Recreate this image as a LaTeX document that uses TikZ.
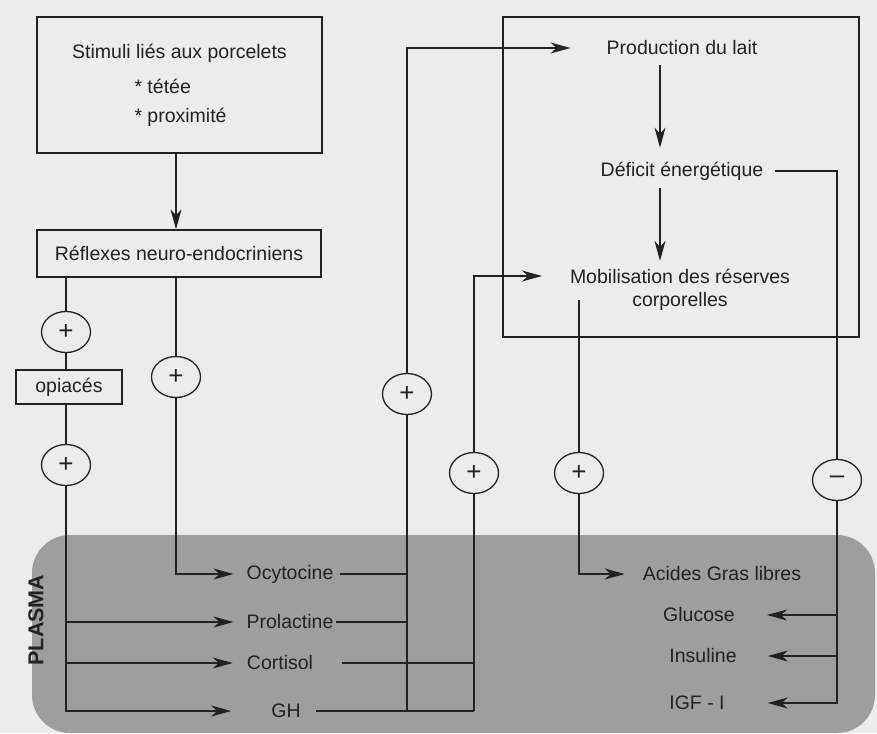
\documentclass[tikz,border=0pt]{standalone}
\usepackage{fontspec}
\setmainfont{Liberation Sans}
\usetikzlibrary{arrows.meta,shapes.geometric,calc}
\definecolor{paper}{HTML}{ECECEC}
\definecolor{plasmagray}{HTML}{9E9E9E}
\definecolor{ink}{HTML}{222222}
\begin{document}
\begin{tikzpicture}[x=1pt,y=-1pt,
  every node/.style={font=\fontsize{19.5}{23.4}\selectfont, text=ink},
  line/.style={draw=ink, line width=1.3pt},
  arr/.style={line, -{Stealth[length=20pt,width=11pt,inset=6pt]}},
  box/.style={draw=ink, line width=1.3pt, rectangle, inner sep=0pt},
  sign/.style={ellipse, draw=ink, line width=1.3pt, fill=paper, minimum width=49pt, minimum height=41pt, inner sep=0pt, font=\fontsize{26}{26}\selectfont},
  lbl/.style={inner sep=0pt},
]
\useasboundingbox (0,0) rectangle (877,733);
\fill[paper] (0,0) rectangle (877,733);
\fill[plasmagray, rounded corners=38pt] (32,535) rectangle (875,733);
\node[font=\bfseries\fontsize{21.5}{21.5}\selectfont, rotate=90, inner sep=0pt] (plasma) at (36,620) {PLASMA};

% boxes
\node[box, minimum width=285pt, minimum height=136pt, align=center] (stim) at (179.5,85)
  {Stimuli liés aux porcelets\\[11.6pt]\makebox[90pt][l]{* tétée}\\[5.6pt]\makebox[90pt][l]{* proximité}};
\node[box, minimum width=284pt, minimum height=47pt] (refl) at (179,253.5) {Réflexes neuro-endocriniens};
\node[box, minimum width=106pt, minimum height=34pt] (opi) at (69,387) {opiacés};
\node[box, minimum width=356pt, minimum height=320pt] (milk) at (681,177) {};

% texts in the right box
\node[lbl] (prod) at (682,48) {Production du lait};
\node[lbl] (def) at (682,171) {Déficit énergétique};
\node[lbl, align=center] (mob) at (680,290) {Mobilisation des réserves\\corporelles};

% plasma texts
\node[lbl] (ocy) at (290,574) {Ocytocine};
\node[lbl] (prl) at (290,622) {Prolactine};
\node[lbl] (cor) at (280,663) {Cortisol};
\node[lbl] (gh) at (286,711) {GH};
\node[lbl] (agl) at (722,574) {Acides Gras libres};
\node[lbl] (glu) at (699,615) {Glucose};
\node[lbl] (ins) at (703,656) {Insuline};
\node[lbl] (igf) at (697,703) {IGF - I};

% signs
\node[sign] (s1) at (66,332) {+};
\node[sign] (s2) at (66,465) {+};
\node[sign] (s3) at (176,377) {+};
\node[sign] (s4) at (407,394) {+};
\node[sign] (s5) at (474,473) {+};
\node[sign] (s6) at (579,473) {+};
\node[sign] (s7) at (837,480) {–};

\coordinate (mobin) at (542,276);
\coordinate (mobout) at (579,300);
\coordinate (ax) at (660,0);

% connectors
\draw[arr] (stim.south -| s3) -- (refl.north -| s3);
\draw[line] (refl.south -| s1) -- (s1);
\draw[line] (s1) -- (opi.north -| s1);
\draw[line] (opi.south -| s1) -- (s2);
\draw[arr, shorten >=40pt] (s2) -- (s2 |- gh) -- (gh.west);
\draw[arr, shorten >=13pt] (s2 |- prl) -- (prl.west);
\draw[arr, shorten >=14pt] (s2 |- cor) -- (cor.west);
\draw[line] (refl.south -| s3) -- (s3);
\draw[arr, shorten >=13pt] (s3) -- (s3 |- ocy) -- (ocy.west);

\draw[line, shorten <=6pt] (ocy.east) -- (s4 |- ocy);
\draw[line, shorten <=2pt] (prl.east) -- (s4 |- prl);
\draw[line, shorten <=29pt] (cor.east) -- (s5 |- cor);
\draw[line, shorten <=15pt] (gh.east) -- (s5 |- gh);
\draw[line] (s4 |- gh) -- (s4);
\draw[arr, shorten >=36pt] (s4) -- (s4 |- prod) -- (prod.west);
\draw[line] (s5 |- gh) -- (s5);
\draw[arr] (s5) -- (s5 |- mobin) -- (mobin);

\draw[arr, shorten <=10pt, shorten >=14pt] (prod.south -| ax) -- (def.north -| ax);
\draw[arr, shorten <=8pt, shorten >=8pt] (def.south -| ax) -- (mob.north -| ax);

\draw[line] (mobout) -- (s6);
\draw[arr, shorten >=18pt] (s6) -- (s6 |- agl) -- (agl.west);

\draw[line, shorten <=11pt] (def.east) -- (s7 |- def) -- (s7);
\draw[arr, shorten >=43pt] (s7) -- (s7 |- igf) -- (igf.east);
\draw[arr, shorten >=32pt] (s7 |- glu) -- (glu.east);
\draw[arr, shorten >=31pt] (s7 |- ins) -- (ins.east);
\end{tikzpicture}
\end{document}
